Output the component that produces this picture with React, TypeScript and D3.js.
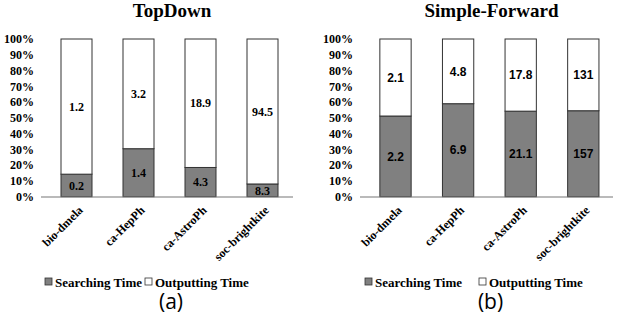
import * as React from "react";
import * as d3 from "d3";

const categories = ["bio-dmela", "ca-HepPh", "ca-AstroPh", "soc-brightkite"];
const seriesNames = ["Searching Time", "Outputting Time"];

const topDownSearching = [0.2, 1.4, 4.3, 8.3];
const topDownOutputting = [1.2, 3.2, 18.9, 94.5];

const simpleSearching = [2.2, 6.9, 21.1, 157];
const simpleOutputting = [2.1, 4.8, 17.8, 131];

const yTicks = [0, 0.1, 0.2, 0.3, 0.4, 0.5, 0.6, 0.7, 0.8, 0.9, 1];

const serif = "'Liberation Serif', 'Times New Roman', serif";
const colors = ["#808080", "#ffffff"];

const Panel = ({ title, caption, searching, outputting, bandRange, axisRange, tickX, legendX, valueFont }) => {
  const rows = categories.map((c, i) => ({ cat: c, s: searching[i], o: outputting[i] }));
  const stack = d3.stack().keys(["s", "o"]).offset(d3.stackOffsetExpand);
  const layers = stack(rows);

  const x = d3.scaleBand().domain(categories).range(bandRange).paddingInner(0.5).paddingOuter(0.25);
  const y = d3.scaleLinear().domain([0, 1]).range([196.7, 39]);
  const mid = (axisRange[0] + axisRange[1]) / 2;

  return (
    <g>
      <text x={mid + 5} y={17} textAnchor="middle" fontFamily={serif} fontWeight="bold" fontSize={19}>
        {title}
      </text>

      {yTicks.map(t => (
        <text key={t} x={tickX} y={y(t)} dy="0.35em" textAnchor="end" fontFamily={serif} fontWeight="bold" fontSize={12}>
          {d3.format(".0%")(t)}
        </text>
      ))}

      {layers.map((layer, li) =>
        layer.map((d, i) => (
          <g key={li + "-" + i}>
            <rect
              x={x(categories[i])}
              y={y(d[1])}
              width={x.bandwidth()}
              height={y(d[0]) - y(d[1])}
              fill={colors[li]}
              stroke="#333"
              strokeWidth={1}
            />
            <text
              x={x(categories[i]) + x.bandwidth() / 2}
              y={y((d[0] + d[1]) / 2)}
              dy="0.35em"
              textAnchor="middle"
              fontFamily={valueFont}
              fontWeight="bold"
              fontSize={12}
            >
              {li === 0 ? searching[i] : outputting[i]}
            </text>
          </g>
        ))
      )}

      <line x1={axisRange[0]} x2={axisRange[1]} y1={197} y2={197} stroke="#777" strokeWidth={1.2} />

      {categories.map(c => {
        const cx = x(c) + x.bandwidth() / 2 + 7;
        return (
          <text
            key={c}
            transform={`translate(${cx},${211}) rotate(-45)`}
            textAnchor="end"
            fontFamily={serif}
            fontWeight="bold"
            fontSize={12}
          >
            {c}
          </text>
        );
      })}

      {seriesNames.map((n, i) => (
        <g key={n} transform={`translate(${legendX[i]},${282})`}>
          <rect x={0} y={-4} width={7} height={7} fill={colors[i]} stroke="#333" strokeWidth={0.8} />
          <text x={10} y={0} dy="0.35em" fontFamily={serif} fontWeight="bold" fontSize={13}>
            {n}
          </text>
        </g>
      ))}

      <text x={mid + 4} y={302} dy="0.35em" textAnchor="middle" fontFamily="'Open Sans', sans-serif" fontSize={21}>
        {caption}
      </text>
    </g>
  );
};

const App = () => {
  return (
    <div style={{ position: "absolute", left: 0, top: 0 }}>
      <svg width={620} height={330} style={{ display: "block", background: "#fff" }}>
        <Panel
          title="TopDown"
          caption="(a)"
          searching={topDownSearching}
          outputting={topDownOutputting}
          bandRange={[45.5, 293.5]}
          axisRange={[41, 293]}
          tickX={34}
          legendX={[45, 145]}
          valueFont={serif}
        />
        <Panel
          title="Simple-Forward"
          caption="(b)"
          searching={simpleSearching}
          outputting={simpleOutputting}
          bandRange={[364.2, 614.6]}
          axisRange={[360, 613]}
          tickX={353}
          legendX={[365, 479]}
          valueFont="'Liberation Sans', Arial, sans-serif"
        />
      </svg>
    </div>
  );
};

export default App;
